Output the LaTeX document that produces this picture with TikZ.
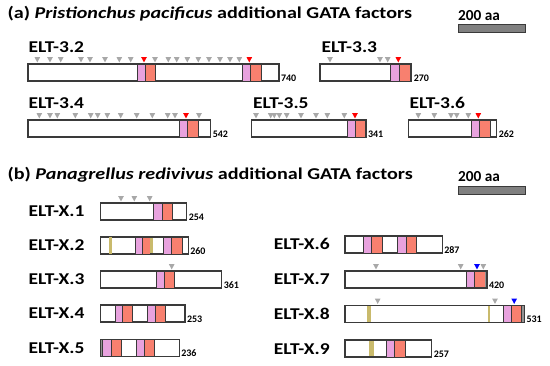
\documentclass[tikz,border=0pt]{standalone}
\usepackage{fontspec}
\setmainfont{Carlito}
\usepackage{tikz}

\definecolor{pk}{HTML}{E8A2DE}
\definecolor{rd}{HTML}{F8806F}
\definecolor{ol}{HTML}{C9BA6C}
\definecolor{tg}{HTML}{A8A8A8}
\definecolor{ln}{HTML}{3A3A3A}
\definecolor{sg}{HTML}{808080}

% bar: name, top y, left x, right x, length
\newcommand{\prot}[5]{\draw[protbox] (#3,#2) rectangle (#4,#2+17);
  \node[lenlbl] (#1) at (#4+1.5,#2+17.5) {#5};}
% domain: style, x0, x1, top y
\newcommand{\dom}[4]{\draw[#1] (#2,#4) rectangle (#3,#4+17);}
% site mark: colour, x, top y of bar
\newcommand{\site}[3]{\fill[#1] (#2-2.8,#3-6.8) -- (#2+2.8,#3-6.8) -- (#2,#3-1.6) -- cycle;}
% wide text
\newcommand{\widetxt}[2]{\scalebox{#1}[1]{#2}}

\begin{document}
\begin{tikzpicture}[x=1pt,y=-1pt,line width=1.1pt,
  protbox/.style={draw=ln,fill=white},
  zf/.style={draw=ln,fill=pk,line width=.8pt},
  zr/.style={draw=ln,fill=rd,line width=.8pt},
  olv/.style={fill=ol,draw=none},
  endg/.style={fill=gray!85,draw=none},
  lenlbl/.style={font=\fontsize{10}{10}\selectfont\bfseries,anchor=base west,inner sep=0pt},
  protlbl/.style={font=\fontsize{16.5}{16.5}\selectfont\bfseries,anchor=base west,inner sep=0pt},
  headlbl/.style={font=\fontsize{16.5}{16.5}\selectfont\bfseries,anchor=base west,inner sep=0pt},
  scalelbl/.style={font=\fontsize{15.3}{15.3}\selectfont\bfseries,anchor=base west,inner sep=0pt},
  scalebar/.style={draw=ln,fill=sg,line width=.8pt}]
\useasboundingbox (0,0) rectangle (550,366);

% (a)
\node[headlbl] (ha) at (7,19) {\widetxt{1.22}{(a) \textit{Pristionchus pacificus} additional GATA factors}};
\node[scalelbl] (sa) at (457.5,20.7) {200 aa};
\draw[scalebar] (458.3,24) rectangle (525.7,32.7);

\node[protlbl] (l32) at (28,52.5) {\widetxt{1.18}{ELT-3.2}};
\prot{n32}{64}{28}{279}{740}
\dom{zf}{137.3}{145.7}{64}\dom{zr}{145.7}{155.7}{64}
\dom{zf}{242.3}{250.7}{64}\dom{zr}{250.7}{261}{64}
\foreach \t in {37.3,50,60.7,81,90,105,119.3,130.7,155,168.3,176.7,187.3,198.3,209,220,230,239.3}
  {\site{tg}{\t}{64}}
\site{red}{144}{64}\site{red}{249.3}{64}

\node[protlbl] (l33) at (321,52.5) {\widetxt{1.18}{ELT-3.3}};
\prot{n33}{64}{320}{411.7}{270}
\dom{zf}{390.7}{399.3}{64}\dom{zr}{399.3}{410}{64}
\foreach \t in {330,380,387.7} {\site{tg}{\t}{64}}
\site{red}{398.3}{64}

\node[protlbl] (l34) at (28,108.3) {\widetxt{1.18}{ELT-3.4}};
\prot{n34}{120}{28}{210.7}{542}
\dom{zf}{179}{187.3}{120}\dom{zr}{187.3}{198.3}{120}
\foreach \t in {39.3,50,57.3,75.3,90.7,97.7,107.3,120.7,136.7,152.3,167.7,175,199}
  {\site{tg}{\t}{120}}
\site{red}{186}{120}

\node[protlbl] (l35) at (252.5,108.3) {\widetxt{1.18}{ELT-3.5}};
\prot{n35}{120}{251.5}{366}{341}
\dom{zf}{347.7}{355.7}{120}\dom{zr}{355.7}{365.3}{120}
\foreach \t in {256,270.7,274.3,279.3,286.7,301,316,327.3,344.3} {\site{tg}{\t}{120}}
\site{red}{355}{120}

\node[protlbl] (l36) at (409,108.3) {\widetxt{1.18}{ELT-3.6}};
\prot{n36}{120}{408.3}{496.7}{262}
\dom{zf}{471}{479.3}{120}\dom{zr}{479.3}{490}{120}
\foreach \t in {418.3,434.3,451,456.7,468.3} {\site{tg}{\t}{120}}
\site{red}{478.3}{120}

% (b)
\node[headlbl] (hb) at (7,180) {\widetxt{1.22}{(b) \textit{Panagrellus redivivus} additional GATA factors}};
\node[scalelbl] (sb) at (457.5,181.7) {200 aa};
\draw[scalebar] (458.3,186) rectangle (525.7,194);

\node[protlbl] (lx1) at (28,217) {\widetxt{1.18}{ELT-X.1}};
\prot{nx1}{203}{100.7}{186.7}{254}
\dom{zf}{153.3}{162.7}{203}\dom{zr}{162.7}{172.7}{203}
\foreach \t in {121,134.3,149.7} {\site{tg}{\t}{203}}

\node[protlbl] (lx2) at (28,251) {\widetxt{1.18}{ELT-X.2}};
\prot{nx2}{237}{100.7}{188.3}{260}
\fill[olv] (108.8,237) rectangle (112.2,254);
\dom{zf}{135}{142}{237}\dom{zr}{142}{150}{237}
\fill[olv] (150,237.6) rectangle (153.3,253.4);
\dom{zf}{163.3}{171.7}{237}\dom{zr}{171.7}{182}{237}

\node[protlbl] (lx3) at (28,285) {\widetxt{1.18}{ELT-X.3}};
\prot{nx3}{271}{100.7}{221.7}{361}
\dom{zf}{156}{164.3}{271}\dom{zr}{164.3}{174.3}{271}
\site{tg}{171.7}{271}

\node[protlbl] (lx4) at (28,319) {\widetxt{1.18}{ELT-X.4}};
\prot{nx4}{305}{100.7}{185}{253}
\dom{zf}{115.7}{122.3}{305}\dom{zr}{122.3}{132.7}{305}
\dom{zf}{147.3}{155.7}{305}\dom{zr}{155.7}{165.7}{305}

\node[protlbl] (lx5) at (28,353.5) {\widetxt{1.18}{ELT-X.5}};
\prot{nx5}{339.5}{100.7}{179.3}{236}
\fill[endg] (100.7,339.5) rectangle (102.5,356.5);
\dom{zf}{102.5}{111.7}{339.5}\dom{zr}{111.7}{121.7}{339.5}
\dom{zf}{136}{144.3}{339.5}\dom{zr}{144.3}{154.3}{339.5}
\draw[ln] (100.7,339.5) rectangle (179.3,356.5);

\node[protlbl] (lx6) at (273.3,250) {\widetxt{1.18}{ELT-X.6}};
\prot{nx6}{236}{345}{442.3}{287}
\dom{zf}{363.3}{371.7}{236}\dom{zr}{371.7}{382.3}{236}
\dom{zf}{397.7}{406.7}{236}\dom{zr}{406.7}{416.7}{236}

\node[protlbl] (lx7) at (273.3,285) {\widetxt{1.18}{ELT-X.7}};
\prot{nx7}{271}{345}{487}{420}
\dom{zf}{466.3}{474.7}{271}\dom{zr}{474.7}{485}{271}
\fill[endg] (485,271) rectangle (487,288);
\draw[ln] (345,271) rectangle (487,288);
\foreach \t in {376,460.7,483.3} {\site{tg}{\t}{271}}
\site{blue}{477}{271}

\node[protlbl] (lx8) at (273.3,320) {\widetxt{1.18}{ELT-X.8}};
\prot{nx8}{305.5}{345}{524.5}{531}
\fill[olv] (367.3,306) rectangle (370.7,322);
\fill[olv] (487.7,306) rectangle (490.3,322);
\dom{zf}{503.3}{511.3}{305.5}\dom{zr}{511.3}{521.7}{305.5}
\fill[endg] (521.7,305.5) rectangle (524.5,322.5);
\draw[ln] (345,305.5) rectangle (524.5,322.5);
\foreach \t in {377.7,495} {\site{tg}{\t}{305.5}}
\site{blue}{514.2}{305.5}

\node[protlbl] (lx9) at (273.3,355) {\widetxt{1.18}{ELT-X.9}};
\prot{nx9}{340}{345}{431.7}{257}
\fill[olv] (369.3,340.6) rectangle (374,356.4);
\dom{zf}{386}{394.3}{340}\dom{zr}{394.3}{405}{340}
\end{tikzpicture}
\end{document}
